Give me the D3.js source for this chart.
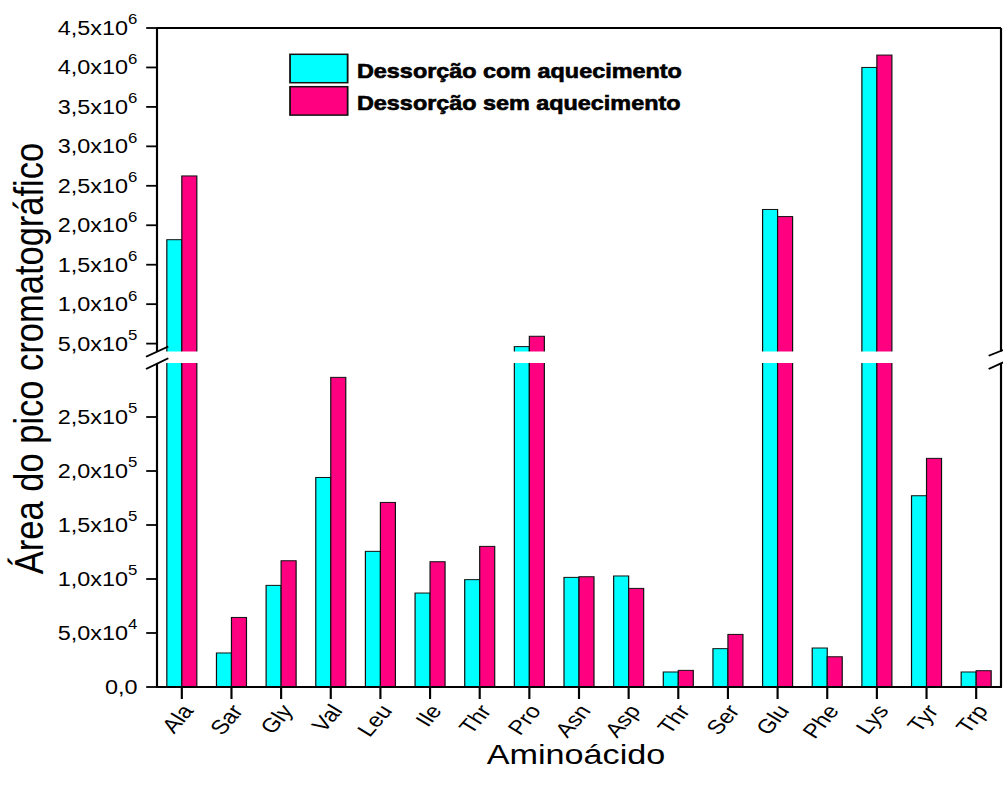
<!DOCTYPE html>
<html><head><meta charset="utf-8">
<script src="https://cdn.jsdelivr.net/npm/d3@7"></script>
<style>body{margin:0;background:#fff;} svg{display:block;}</style>
</head><body>
<svg id="chart" width="1003" height="788"></svg>
<script>
const categories = ["Ala","Sar","Gly","Val","Leu","Ile","Thr","Pro","Asn","Asp","Thr","Ser","Glu","Phe","Lys","Tyr","Trp"];
const seriesNames = ["Dessorção com aquecimento","Dessorção sem aquecimento"];
const comAquecimento = [1.817e6, 3.15e4, 9.41e4, 1.94e5, 1.256e5, 8.7e4, 9.94e4, 4.62e5, 1.015e5, 1.028e5, 1.39e4, 3.55e4, 2.20e6, 3.61e4, 4.0e6, 1.771e5, 1.39e4];
const semAquecimento = [2.625e6, 6.44e4, 1.169e5, 2.867e5, 1.709e5, 1.16e5, 1.302e5, 5.93e5, 1.021e5, 9.13e4, 1.54e4, 4.87e4, 2.11e6, 2.8e4, 4.157e6, 2.117e5, 1.51e4];
const lowerTicks = [0, 5e4, 1e5, 1.5e5, 2e5, 2.5e5];
const lowerTickLabels = [["0,0",""],["5,0x10","4"],["1,0x10","5"],["1,5x10","5"],["2,0x10","5"],["2,5x10","5"]];
const upperTicks = [5e5, 1e6, 1.5e6, 2e6, 2.5e6, 3e6, 3.5e6, 4e6, 4.5e6];
const upperTickLabels = [["5,0x10","5"],["1,0x10","6"],["1,5x10","6"],["2,0x10","6"],["2,5x10","6"],["3,0x10","6"],["3,5x10","6"],["4,0x10","6"],["4,5x10","6"]];
const colors = ["#00FFFF", "#FF0080"];

(function(){
const SX = 1.2;
const svg = d3.select("#chart");
const root = svg.append("g").attr("transform", `scale(${SX},1)`);
const FONT = "'Liberation Sans', Arial, sans-serif";

const pLeft = 157/SX, pRight = 1001/SX, pTop = 28, pBottom = 687;
const gapTop = 351.5, gapBot = 363;
const yLow = d3.scaleLinear().domain([0, 3e5]).range([pBottom, gapBot]);
const yUp = d3.scaleLinear().domain([4e5, 4.5e6]).range([gapTop, pTop]);
const yv = v => v <= 3e5 ? yLow(v) : yUp(v);

const x = d3.scaleBand().domain(d3.range(categories.length)).range([pLeft, pRight]).padding(0);
const groupW = 25;
const xs = d3.scaleBand().domain([0,1]).range([0, groupW]);

const data = [comAquecimento, semAquecimento];

data.forEach((arr, si) => {
  root.append("g").selectAll("rect").data(arr).join("rect")
    .attr("x", (d,i) => x(i) + (x.bandwidth()-groupW)/2 + xs(si))
    .attr("width", xs.bandwidth())
    .attr("y", d => yv(d))
    .attr("height", d => pBottom - yv(d))
    .attr("fill", colors[si])
    .attr("stroke", "#111")
    .attr("stroke-width", 1);
});

const ax = root.append("g").attr("stroke", "#000").attr("stroke-width", 1.8).attr("fill", "none");
ax.append("line").attr("x1", pLeft).attr("x2", pLeft).attr("y1", pTop).attr("y2", pBottom);
ax.append("line").attr("x1", pRight).attr("x2", pRight).attr("y1", pTop).attr("y2", pBottom);
ax.append("line").attr("x1", pLeft).attr("x2", pRight).attr("y1", pTop).attr("y2", pTop);
ax.append("line").attr("x1", pLeft-0.8).attr("x2", pRight+0.8).attr("y1", pBottom).attr("y2", pBottom);

function yTicks(ticks, labels, scale) {
  ticks.forEach((t, i) => {
    const yy = scale(t);
    ax.append("line").attr("x1", pLeft - 9).attr("x2", pLeft).attr("y1", yy).attr("y2", yy);
    const txt = root.append("text").attr("x", 114.5).attr("y", yy + 7)
      .attr("text-anchor", "end").attr("font-family", FONT).attr("font-size", 19.5).attr("fill", "#000");
    if (labels[i][1]) {
      txt.append("tspan").text(labels[i][0]);
      txt.append("tspan").text(labels[i][1]).attr("font-size", 14).attr("dy", -10.5);
    } else {
      txt.text(labels[i][0]);
    }
  });
}
yTicks(lowerTicks, lowerTickLabels, yLow);
yTicks(upperTicks, upperTickLabels, yUp);

categories.forEach((c, i) => {
  const cx = x(i) + x.bandwidth()/2;
  ax.append("line").attr("x1", cx).attr("x2", cx).attr("y1", pBottom).attr("y2", pBottom + 12);
  root.append("text").attr("transform", `translate(${cx + 10.5},${pBottom + 24}) rotate(-54)`)
    .attr("text-anchor", "end").attr("font-family", FONT).attr("font-size", 20).attr("fill", "#000").text(c);
});

root.append("rect").attr("x", pLeft - 20).attr("y", gapTop).attr("width", pRight - pLeft + 40).attr("height", gapBot - gapTop).attr("fill", "#fff");
const br = root.append("g").attr("stroke", "#000").attr("stroke-width", 1.8);
br.append("line").attr("x1", 121.7).attr("y1", 356.7).attr("x2", 140.25).attr("y2", 346.5);
br.append("line").attr("x1", 121.7).attr("y1", 369).attr("x2", 140.25).attr("y2", 358.3);
br.append("line").attr("x1", 823.9).attr("y1", 355.7).attr("x2", 836).attr("y2", 350);
br.append("line").attr("x1", 823.9).attr("y1", 369).attr("x2", 836).attr("y2", 362.3);

root.append("text").attr("x", 480).attr("y", 764).attr("text-anchor", "middle")
  .attr("font-family", FONT).attr("font-size", 28.5).attr("fill", "#000").text("Aminoácido");
root.append("text").attr("transform", `translate(35.5,358.5) rotate(-90)`).attr("text-anchor", "middle")
  .attr("font-family", FONT).attr("font-size", 34.5).attr("fill", "#000").text("Área do pico cromatográfico");

const lg = root.append("g");
seriesNames.forEach((s, i) => {
  const y0 = 54.3 + i * 32.4;
  lg.append("rect").attr("x", 241.7).attr("y", y0).attr("width", 48).attr("height", 28.4)
    .attr("fill", colors[i]).attr("stroke", "#111").attr("stroke-width", 1.5);
  lg.append("text").attr("x", 297.5).attr("y", y0 + 23.4).attr("font-family", FONT).attr("font-weight", "bold")
    .attr("font-size", 19.5).attr("fill", "#000").attr("stroke", "#000").attr("stroke-width", 0.6).text(s);
});
})();
</script>
</body></html>
